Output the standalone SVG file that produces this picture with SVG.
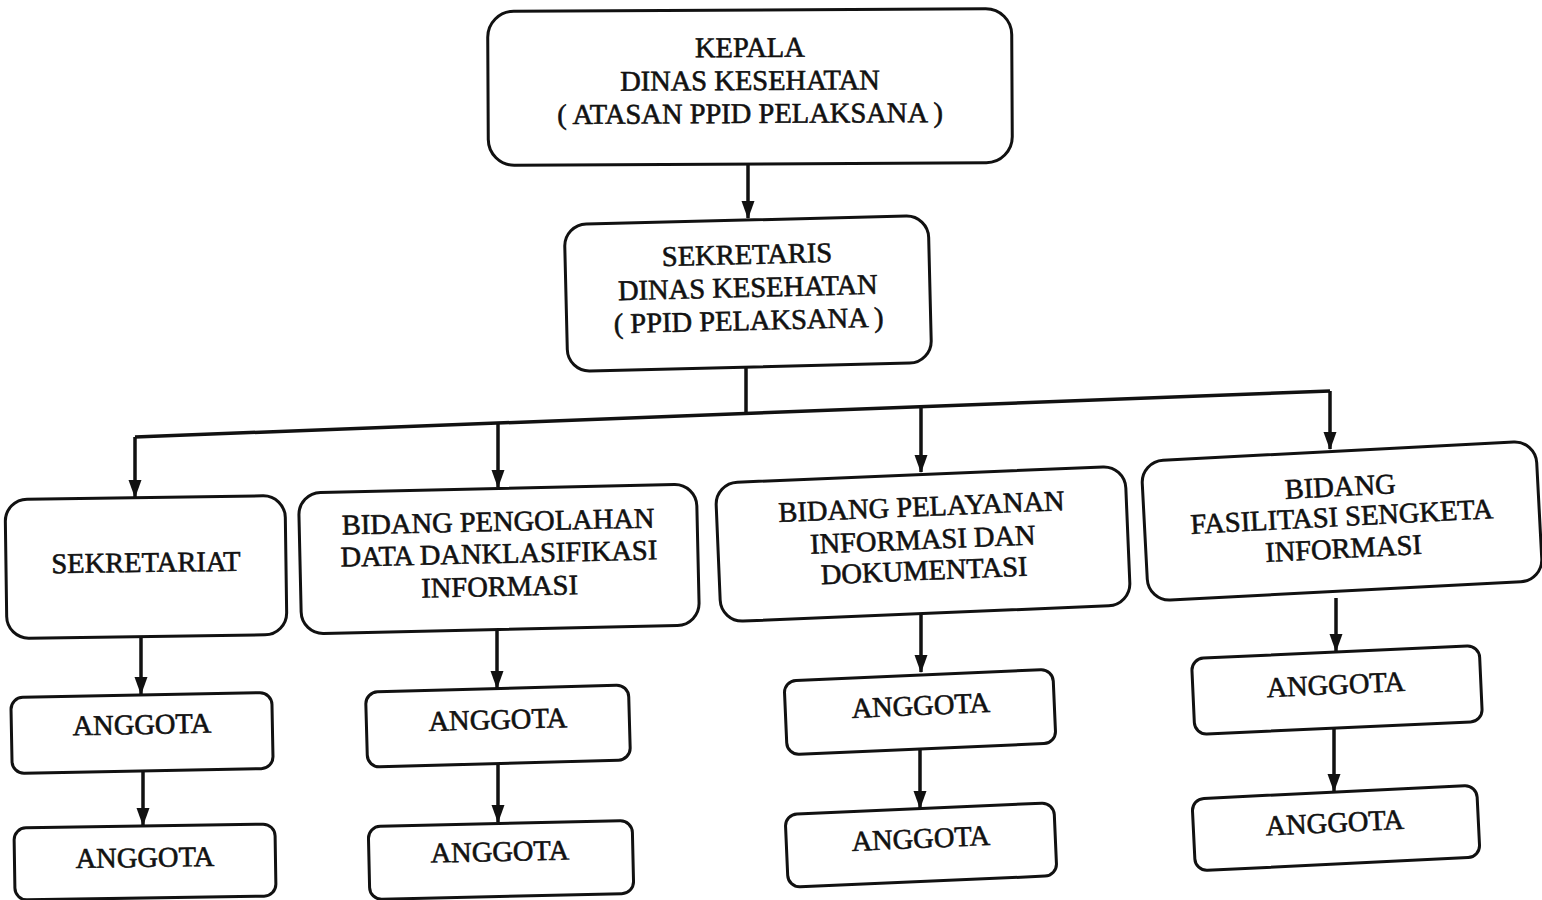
<svg xmlns="http://www.w3.org/2000/svg" width="1542" height="900" viewBox="0 0 1542 900">
<defs>
<style>
.box{fill:#fff;stroke:#111;stroke-width:3}
.t{font-family:"Liberation Serif","Times New Roman",serif;font-size:28.5px;fill:#111;stroke:#111;stroke-width:0.6;text-anchor:middle}
.c{fill:none;stroke:#111;stroke-width:3.5}
</style>
<marker id="ah" markerUnits="userSpaceOnUse" markerWidth="18" markerHeight="14" refX="17" refY="7" orient="auto" viewBox="0 0 18 14">
<path d="M0,0.5 L18,7 L0,13.5 z" fill="#111"/>
</marker>
</defs>
<rect width="1542" height="900" fill="#fff"/>
<g id="connectors">
<path class="c" d="M748,165 L748,218" marker-end="url(#ah)"/>
<path class="c" d="M746,366 L746,414"/>
<path class="c" d="M135,437 L1330,391"/>
<path class="c" d="M135,437 L135,497" marker-end="url(#ah)"/>
<path class="c" d="M498,423 L498,487" marker-end="url(#ah)"/>
<path class="c" d="M921,407 L921,472" marker-end="url(#ah)"/>
<path class="c" d="M1330,391 L1330,449" marker-end="url(#ah)"/>
<path class="c" d="M141,637 L141,694" marker-end="url(#ah)"/>
<path class="c" d="M143,770 L143,825" marker-end="url(#ah)"/>
<path class="c" d="M497,630 L497,688" marker-end="url(#ah)"/>
<path class="c" d="M498,764 L498,822" marker-end="url(#ah)"/>
<path class="c" d="M921,612 L921,672" marker-end="url(#ah)"/>
<path class="c" d="M920,748 L920,808" marker-end="url(#ah)"/>
<path class="c" d="M1336,598 L1336,651" marker-end="url(#ah)"/>
<path class="c" d="M1334,727 L1334,791" marker-end="url(#ah)"/>
</g>
<g id="kepala" transform="rotate(-0.3 750 87)">
<rect class="box" x="488" y="10" width="524" height="154" rx="26"/>
<text class="t" x="750" y="57">KEPALA</text>
<text class="t" x="750" y="90">DINAS KESEHATAN</text>
<text class="t" x="750" y="123">( ATASAN PPID PELAKSANA )</text>
</g>
<g id="sekretaris" transform="rotate(-1.4 748 294)">
<rect class="box" x="566" y="220" width="364" height="147" rx="22"/>
<text class="t" x="748" y="264">SEKRETARIS</text>
<text class="t" x="748" y="297">DINAS KESEHATAN</text>
<text class="t" x="748" y="330">( PPID PELAKSANA )</text>
</g>
<g id="sekretariat" transform="rotate(-0.8 146 567)">
<rect class="box" x="6" y="497.5" width="280" height="139" rx="22"/>
<text class="t" x="146" y="572">SEKRETARIAT</text>
</g>
<g id="bidang-pengolahan" transform="rotate(-1.3 499 559)">
<rect class="box" x="300" y="488.5" width="398" height="141" rx="22"/>
<text class="t" x="499" y="531">BIDANG PENGOLAHAN</text>
<text class="t" x="499" y="563">DATA DANKLASIFIKASI</text>
<text class="t" x="499" y="596">INFORMASI</text>
</g>
<g id="bidang-pelayanan" transform="rotate(-2.4 923 544)">
<rect class="box" x="718" y="474.5" width="410" height="139" rx="22"/>
<text class="t" x="923" y="516">BIDANG PELAYANAN</text>
<text class="t" x="923" y="549">INFORMASI DAN</text>
<text class="t" x="923" y="580">DOKUMENTASI</text>
</g>
<g id="bidang-fasilitasi" transform="rotate(-3 1342 521)">
<rect class="box" x="1144.5" y="451" width="395" height="140" rx="22"/>
<text class="t" x="1342" y="496">BIDANG</text>
<text class="t" x="1342" y="526">FASILITASI SENGKETA</text>
<text class="t" x="1342" y="558">INFORMASI</text>
</g>
<g id="anggota-1a" transform="rotate(-1.1 142 733)">
<rect class="box" x="11.5" y="695" width="261" height="76" rx="12"/>
<text class="t" x="142" y="734">ANGGOTA</text>
</g>
<g id="anggota-1b" transform="rotate(-0.9 145 862)">
<rect class="box" x="14.5" y="826" width="261" height="72" rx="12"/>
<text class="t" x="145" y="867">ANGGOTA</text>
</g>
<g id="anggota-2a" transform="rotate(-1.6 498 726)">
<rect class="box" x="366.5" y="688.5" width="263" height="75" rx="12"/>
<text class="t" x="498" y="729">ANGGOTA</text>
</g>
<g id="anggota-2b" transform="rotate(-1.3 501 860)">
<rect class="box" x="369" y="823.5" width="264" height="73" rx="12"/>
<text class="t" x="500" y="861">ANGGOTA</text>
</g>
<g id="anggota-3a" transform="rotate(-2.5 920 712)">
<rect class="box" x="785.5" y="675" width="269" height="74" rx="12"/>
<text class="t" x="921" y="715">ANGGOTA</text>
</g>
<g id="anggota-3b" transform="rotate(-2.5 921 845)">
<rect class="box" x="786.5" y="808.5" width="269" height="73" rx="12"/>
<text class="t" x="921" y="848">ANGGOTA</text>
</g>
<g id="anggota-4a" transform="rotate(-2.6 1337 690)">
<rect class="box" x="1193" y="652" width="288" height="76" rx="12"/>
<text class="t" x="1336" y="694">ANGGOTA</text>
</g>
<g id="anggota-4b" transform="rotate(-2.8 1336 828)">
<rect class="box" x="1193.5" y="792" width="285" height="72" rx="12"/>
<text class="t" x="1335" y="832">ANGGOTA</text>
</g>
</svg>
